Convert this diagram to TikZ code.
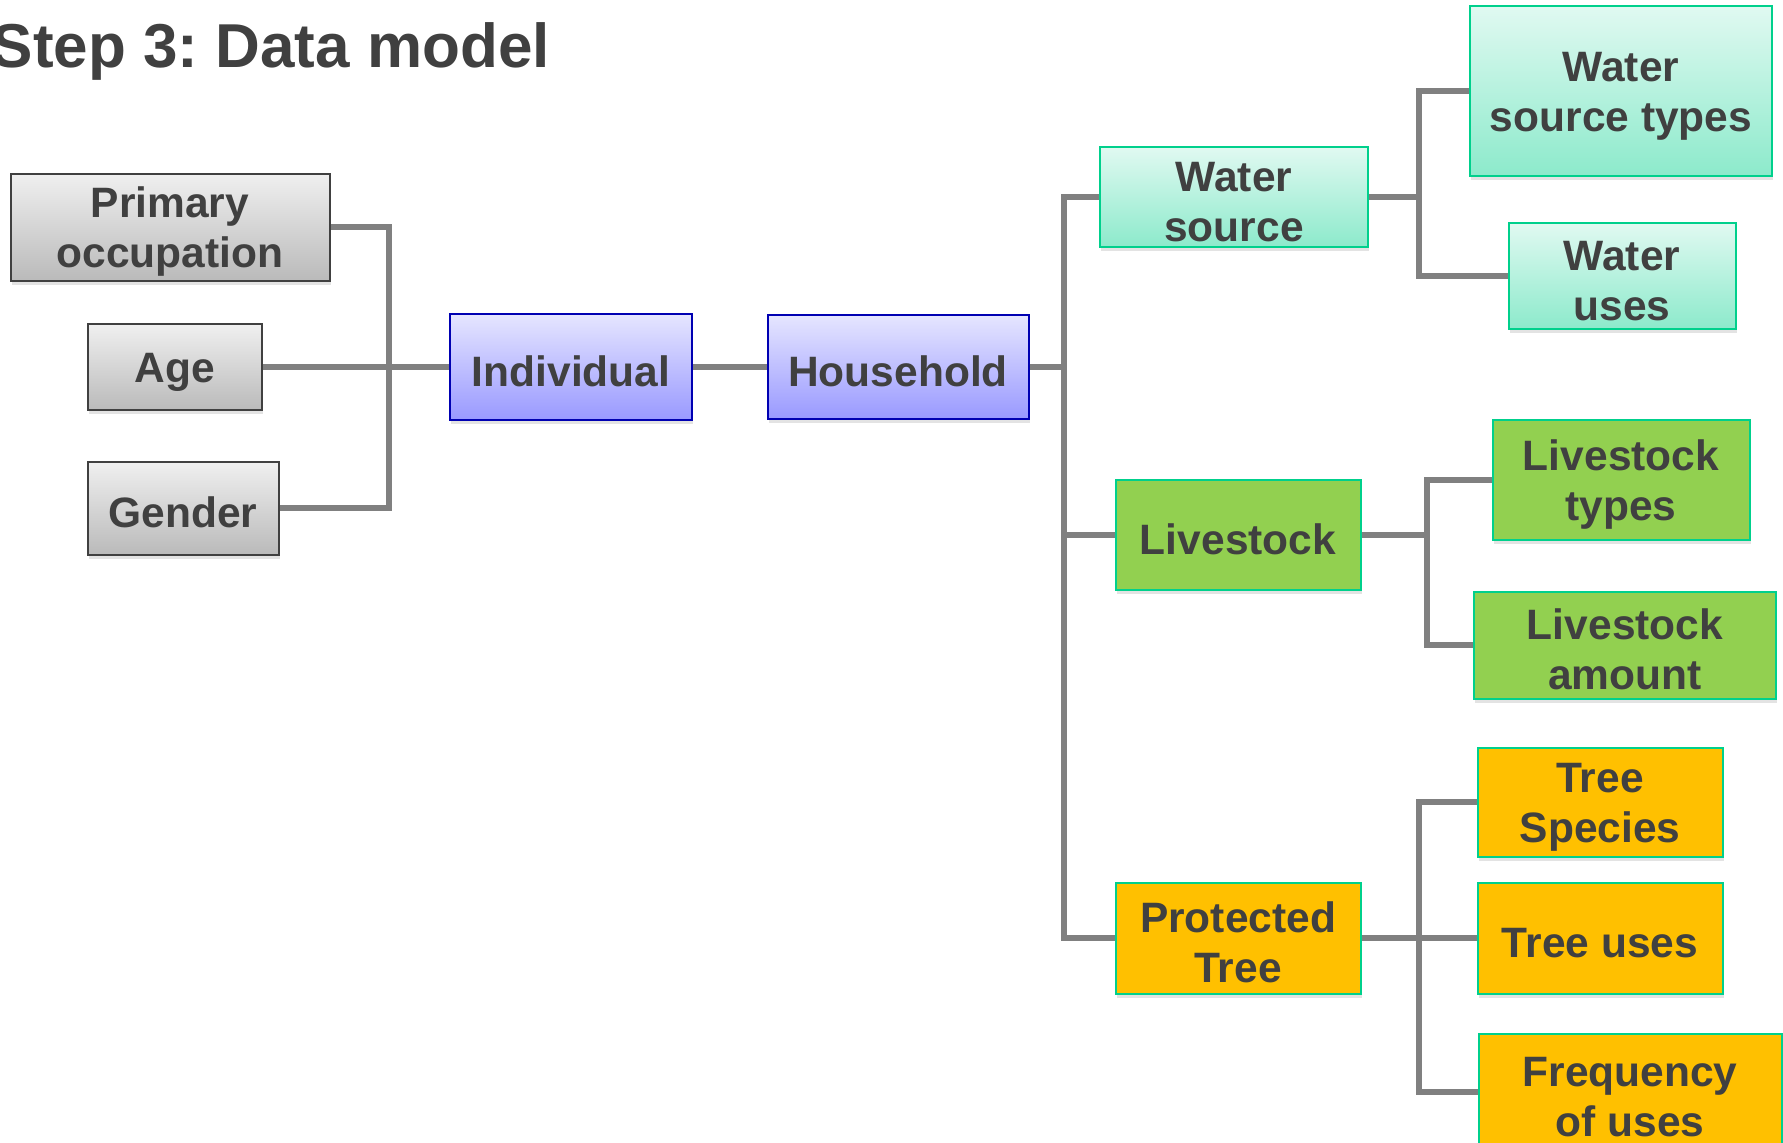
\documentclass[tikz,border=0pt]{standalone}
\usepackage{fontspec}
\setmainfont{Liberation Sans}
\usetikzlibrary{shadows}
\usetikzlibrary{positioning}
\frenchspacing
\definecolor{dm-text}{HTML}{404040}
\definecolor{dm-link}{HTML}{808080}
\definecolor{dm-teal}{HTML}{00D08C}
\definecolor{dm-green}{HTML}{92D050}
\definecolor{dm-gold}{HTML}{FFC000}
% lowers the text a little inside its box
\newcommand{\boxstrut}{\rule{0pt}{39pt}}
\tikzset{
  entity/.style={draw, line width=2pt, inner sep=0pt, align=center, text=dm-text,
    font=\fontsize{42.5}{50}\selectfont\bfseries,
    drop shadow={opacity=0.22, shadow xshift=1pt, shadow yshift=-4pt}},
  greybox/.style={entity, draw=dm-text, top color=black!6, bottom color=black!27},
  bluebox/.style={entity, draw=blue!70!black, top color=blue!10, bottom color=blue!40},
  waterbox/.style={entity, draw=dm-teal, top color=dm-teal!12, bottom color=dm-teal!45},
  stockbox/.style={entity, draw=dm-teal, fill=dm-green},
  treebox/.style={entity, draw=dm-teal, fill=dm-gold},
  link/.style={draw=dm-link, line width=5.5pt}
}
\begin{document}
\begin{tikzpicture}[x=1pt, y=-1pt]
\useasboundingbox (0,0) rectangle (1783,1143);
\clip (0,0) rectangle (1783,1143);
% title
\node[anchor=base east, inner sep=0pt, text=dm-text, font=\fontsize{62}{70}\selectfont\bfseries] (title) at (550,67) {Step 3: Data model};
% individual attributes
\node[greybox, minimum width=319pt, minimum height=107pt] (occupation) at (170,227) {\boxstrut Primary\\occupation};
\node[greybox, minimum width=174pt, minimum height=86pt] (age) at (175,367) {\boxstrut Age};
\node[greybox, minimum width=191pt, minimum height=93pt] (gender) at (183,508) {\boxstrut Gender};
% main chain
\node[bluebox, minimum width=242pt, minimum height=106pt] (individual) at (571,367) {\boxstrut Individual};
\node[bluebox, minimum width=261pt, minimum height=104pt] (household) at (898,367) {\boxstrut Household};
% household parts
\node[waterbox, minimum width=268pt, minimum height=100pt] (water) at (1234,197) {\boxstrut Water\\source};
\node[stockbox, minimum width=245pt, minimum height=110pt] (livestock) at (1238,535) {\boxstrut Livestock};
\node[treebox, minimum width=245pt, minimum height=111pt] (tree) at (1238,938) {\boxstrut Protected\\Tree};
% water details
\node[waterbox, minimum width=302pt, minimum height=170pt] (wtypes) at (1621,91) {\boxstrut Water\\source types};
\node[waterbox, minimum width=227pt, minimum height=106pt] (wuses) at (1622,276) {\boxstrut Water\\uses};
% livestock details
\node[stockbox, minimum width=257pt, minimum height=120pt] (ltypes) at (1621,480) {\boxstrut Livestock\\types};
\node[stockbox, minimum width=302pt, minimum height=107pt] (lamount) at (1625,645) {\boxstrut Livestock\\amount};
% tree details
\node[treebox, minimum width=245pt, minimum height=109pt] (species) at (1600,802) {\boxstrut Tree\\Species};
\node[treebox, minimum width=245pt, minimum height=111pt] (tuses) at (1600,938) {\boxstrut Tree uses};
\node[treebox, minimum width=303pt, minimum height=116pt] (frequency) at (1630,1092) {\boxstrut Frequency\\of uses};
% buses
\coordinate (ibus) at (389,367);
\coordinate (hbus) at (1064,367);
\coordinate (wbus) at (1419,197);
\coordinate (lbus) at (1427,535);
\coordinate (tbus) at (1419,938);
% connectors
\draw[link] (occupation.east) -| (ibus) |- (gender.east);
\draw[link] (age.east) -- (individual.west);
\draw[link] (individual.east) -- (household.west);
\draw[link] (water.west) -| (hbus) |- (tree.west);
\draw[link] (household.east) -- (hbus);
\draw[link] (livestock.west) -- (livestock.west -| hbus);
\draw[link] (wtypes.west) -| (wbus) |- (wuses.west);
\draw[link] (water.east) -- (wbus);
\draw[link] (ltypes.west) -| (lbus) |- (lamount.west);
\draw[link] (livestock.east) -- (lbus);
\draw[link] (species.west) -| (tbus) |- (frequency.west);
\draw[link] (tree.east) -- (tuses.west);
\end{tikzpicture}
\end{document}
